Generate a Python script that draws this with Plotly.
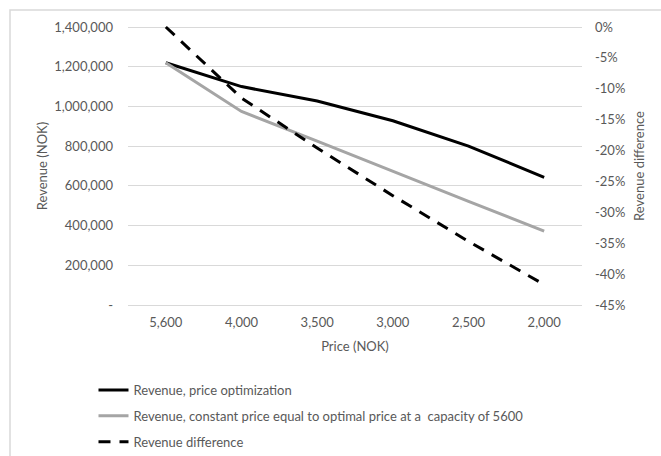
import plotly.graph_objects as go

# Price levels (NOK) and revenue series
prices = ["5,600", "4,000", "3,500", "3,000", "2,500", "2,000"]
revenue_optimized = [1220000, 1100000, 1027000, 928000, 800000, 643000]
revenue_constant = [1220000, 975000, 825000, 672000, 522000, 372000]
revenue_difference_pct = [0.0, -11.5, -19.6, -27.3, -34.7, -41.7]

left_ticks = [0, 200000, 400000, 600000, 800000, 1000000, 1200000, 1400000]
left_ticktext = ["-", "200,000", "400,000", "600,000", "800,000", "1,000,000", "1,200,000", "1,400,000"]
right_ticks = [0, -5, -10, -15, -20, -25, -30, -35, -40, -45]
right_ticktext = [f"{v}%" for v in right_ticks]

FONT = "Lato, 'Open Sans', sans-serif"
TXT = "#595959"
GRID = "#d9d9d9"

# Plot area is padded by 2px top and bottom so the end gridlines stay visible
PLOT_H = 282
PAD = 2 / 278
left_span = 1400000
right_span = 45
left_range = [-left_span * PAD, left_span * (1 + PAD)]
right_range = [-right_span * (1 + PAD), right_span * PAD]

fig = go.Figure()
fig.add_trace(go.Scatter(
    x=prices, y=revenue_optimized, mode="lines",
    name="Revenue, price optimization",
    line=dict(color="#000000", width=3), legendgroup="a",
))
fig.add_trace(go.Scatter(
    x=prices, y=revenue_constant, mode="lines",
    name="Revenue, constant price equal to optimal price at a  capacity of 5600",
    line=dict(color="#a5a5a5", width=3), legendgroup="b",
))
fig.add_trace(go.Scatter(
    x=prices, y=revenue_difference_pct, mode="lines", yaxis="y2",
    name="Revenue difference",
    line=dict(color="#000000", width=3, dash="12px,9px"), legendgroup="c",
))

fig.update_layout(
    width=661, height=456,
    margin=dict(l=128, r=79, t=25, b=149, autoexpand=False),
    paper_bgcolor="white", plot_bgcolor="white",
    font=dict(family=FONT, size=13, color=TXT),
    xaxis=dict(
        type="category", range=[-0.5, 5.5], automargin=False,
        showgrid=False, zeroline=False, showline=False, ticks="",
        ticklabelstandoff=6,
        title=dict(text="Price (NOK)", font=dict(size=13, color=TXT), standoff=12),
        tickfont=dict(size=13, color=TXT),
    ),
    yaxis=dict(
        range=left_range, tickvals=left_ticks, ticktext=left_ticktext,
        automargin=False,
        showgrid=True, gridcolor=GRID, gridwidth=1.3, zeroline=False,
        showline=False, ticks="", ticklabelstandoff=14,
        title=dict(text="Revenue (NOK)", font=dict(size=13, color=TXT), standoff=3),
        tickfont=dict(size=13, color=TXT),
    ),
    yaxis2=dict(
        overlaying="y", side="right", range=right_range, automargin=False,
        tickvals=right_ticks, ticktext=right_ticktext,
        showgrid=False, zeroline=False, showline=False, ticks="",
        ticklabelstandoff=12,
        title=dict(text="Revenue difference", font=dict(size=13, color=TXT), standoff=10),
        tickfont=dict(size=13, color=TXT),
    ),
    legend=dict(
        x=-0.076, y=-0.241, xanchor="left", yanchor="top",
        orientation="v", traceorder="grouped", tracegroupgap=6,
        font=dict(size=13, color=TXT), bgcolor="rgba(0,0,0,0)",
    ),
    showlegend=True,
)

# Chart outline
fig.add_shape(type="rect", xref="paper", yref="paper",
              x0=-118 / 454, x1=(661 - 128 + 10) / 454,
              y0=-(456 - 307 + 10) / PLOT_H, y1=1 + 15 / PLOT_H,
              line=dict(color=GRID, width=1.5), fillcolor="rgba(0,0,0,0)", layer="above")

fig.write_html("out.html")
